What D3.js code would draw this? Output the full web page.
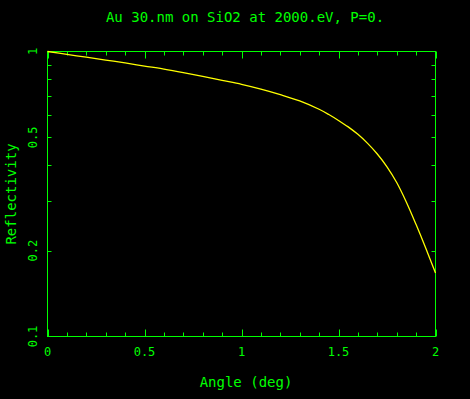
<!DOCTYPE html>
<html>
<head>
<meta charset="utf-8">
<script src="https://cdn.jsdelivr.net/npm/d3@7"></script>
<style>
  html, body { margin: 0; padding: 0; background: #000; }
  text { font-family: "DejaVu Sans Mono", monospace; fill: #00ff00; }
</style>
</head>
<body>
<script>
// data
const angles = [0, 0.1, 0.2, 0.3, 0.4, 0.5, 0.6, 0.7, 0.8, 0.9, 1.0, 1.1, 1.2, 1.3, 1.4, 1.45,
                1.5, 1.55, 1.6, 1.65, 1.7, 1.75, 1.8, 1.85, 1.9, 1.95, 2.0];
const reflectivity = [1.0, 0.977, 0.955, 0.933, 0.912, 0.889, 0.867, 0.843, 0.818, 0.792, 0.767,
                      0.738, 0.706, 0.671, 0.627, 0.601, 0.573, 0.544, 0.512, 0.476, 0.437,
                      0.394, 0.347, 0.296, 0.247, 0.204, 0.167];
const xTickLabels = [0, 0.5, 1, 1.5, 2];
const xMinor = d3.range(0, 21).map(d => d / 10);
const yTickLabels = [1, 0.5, 0.2, 0.1];
const yMinor = [0.2, 0.3, 0.4, 0.5, 0.6, 0.7, 0.8, 0.9];

const width = 470, height = 399;
const green = "#00ff00", yellow = "#ffff00";

const svg = d3.select("body").append("svg")
    .attr("width", width)
    .attr("height", height)
    .style("background", "#000");

const x = d3.scaleLinear().domain([0, 2]).range([47.5, 435.5]);
const y = d3.scaleLog().domain([0.1, 1]).range([336.5, 51.5]);

const [x0, x1] = x.range();
const [y0, y1] = y.range();

// frame
svg.append("rect")
    .attr("x", x0).attr("y", y1)
    .attr("width", x1 - x0).attr("height", y0 - y1)
    .attr("fill", "none").attr("stroke", green).attr("stroke-width", 1);

// x ticks, bottom and top, pointing in
const isMajor = d => Math.abs(d * 2 - Math.round(d * 2)) < 1e-6;
const tk = svg.append("g").attr("stroke", green).attr("stroke-width", 1);
xMinor.forEach(d => {
  const len = isMajor(d) ? 7 : 4;
  const px = Math.round(x(d)) + 0.5;
  tk.append("line").attr("x1", px).attr("x2", px).attr("y1", y0).attr("y2", y0 - len);
  tk.append("line").attr("x1", px).attr("x2", px).attr("y1", y1).attr("y2", y1 + len);
});
// y ticks, left and right
yMinor.forEach(d => {
  const py = Math.round(y(d)) + 0.5;
  tk.append("line").attr("x1", x0).attr("x2", x0 + 4).attr("y1", py).attr("y2", py);
  tk.append("line").attr("x1", x1).attr("x2", x1 - 4).attr("y1", py).attr("y2", py);
});

// tick labels
svg.append("g").selectAll("text").data(xTickLabels).join("text")
    .attr("x", d => x(d))
    .attr("y", 356)
    .attr("text-anchor", "middle")
    .attr("font-size", 12)
    .text(d => d);

svg.append("g").selectAll("text").data(yTickLabels).join("text")
    .attr("transform", d => `translate(37,${y(d)}) rotate(-90)`)
    .attr("text-anchor", "middle")
    .attr("font-size", 12)
    .text(d => d);

// curve
const line = d3.line()
    .x(d => x(d[0]))
    .y(d => y(d[1]))
    .curve(d3.curveCatmullRom);

svg.append("path")
    .datum(angles.map((a, i) => [a, reflectivity[i]]))
    .attr("d", line)
    .attr("fill", "none")
    .attr("stroke", yellow)
    .attr("stroke-width", 1.3);

// titles
svg.append("text")
    .attr("x", 245).attr("y", 22)
    .attr("text-anchor", "middle")
    .attr("font-size", 14)
    .text("Au 30.nm on SiO2 at 2000.eV, P=0.");

svg.append("text")
    .attr("x", 246).attr("y", 387)
    .attr("text-anchor", "middle")
    .attr("font-size", 14)
    .text("Angle (deg)");

svg.append("text")
    .attr("transform", `translate(16,${(y0 + y1) / 2}) rotate(-90)`)
    .attr("text-anchor", "middle")
    .attr("font-size", 14)
    .text("Reflectivity");
</script>
</body>
</html>
